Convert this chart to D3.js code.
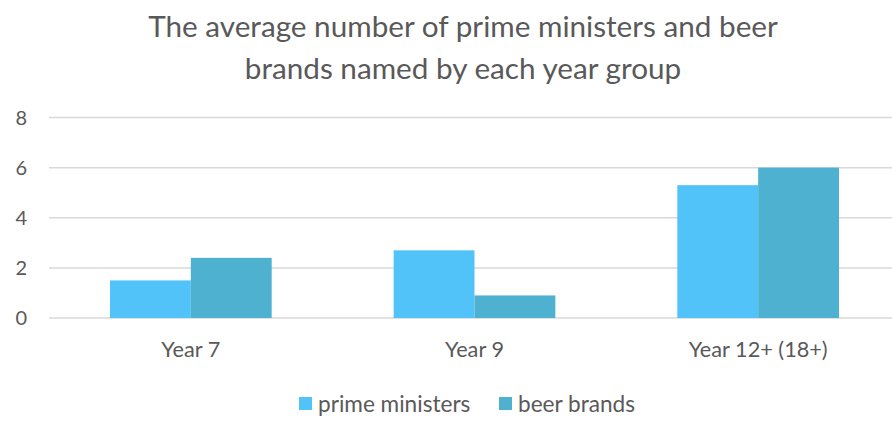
<!DOCTYPE html>
<html>
<head>
<meta charset="utf-8">
<script src="https://cdn.jsdelivr.net/npm/d3@7"></script>
<style>
  body { margin: 0; background: #fff; }
  svg { display: block; font-family: Lato, "Open Sans", sans-serif; }
</style>
</head>
<body>
<div id="chart"></div>
<script>
const categories = ["Year 7", "Year 9", "Year 12+ (18+)"];
const seriesNames = ["prime ministers", "beer brands"];
const primeMinisters = [1.5, 2.7, 5.3];
const beerBrands = [2.4, 0.9, 6.0];
const yTicks = [0, 2, 4, 6, 8];
const titleLines = [
  "The average number of prime ministers and beer",
  "brands named by each year group"
];

const width = 892;
const height = 431;

const svg = d3.select("#chart")
  .append("svg")
  .attr("width", width)
  .attr("height", height);

const colors = d3.scaleOrdinal()
  .domain(seriesNames)
  .range(["#52c3f8", "#4fb1d0"]);

const x = d3.scaleBand()
  .domain(categories)
  .range([49, 900])
  .paddingInner(0.43)
  .paddingOuter(0.215);

const xSub = d3.scaleBand()
  .domain(seriesNames)
  .range([0, x.bandwidth()]);

const y = d3.scaleLinear()
  .domain([0, 8])
  .range([318, 117.5]);

// gridlines
svg.append("g")
  .selectAll("line")
  .data(yTicks)
  .enter()
  .append("line")
  .attr("x1", 49)
  .attr("x2", width)
  .attr("y1", d => y(d))
  .attr("y2", d => y(d))
  .attr("stroke", "#d9d9d9")
  .attr("stroke-width", 1.5);

// y tick labels
svg.append("g")
  .selectAll("text")
  .data(yTicks)
  .enter()
  .append("text")
  .attr("x", 27)
  .attr("y", d => y(d))
  .attr("dy", "0.36em")
  .attr("text-anchor", "end")
  .attr("font-size", "20px")
  .attr("fill", "#595959")
  .text(d => d);

// bars
const rows = categories.map((c, i) => ({
  category: c,
  values: [
    { series: seriesNames[0], value: primeMinisters[i] },
    { series: seriesNames[1], value: beerBrands[i] }
  ]
}));

const groups = svg.append("g")
  .selectAll("g")
  .data(rows)
  .enter()
  .append("g")
  .attr("transform", d => `translate(${x(d.category)},0)`);

groups.selectAll("rect")
  .data(d => d.values)
  .enter()
  .append("rect")
  .attr("x", d => xSub(d.series))
  .attr("width", xSub.bandwidth())
  .attr("y", d => y(d.value))
  .attr("height", d => y(0) - y(d.value))
  .attr("fill", d => colors(d.series));

// category labels
svg.append("g")
  .selectAll("text")
  .data(categories)
  .enter()
  .append("text")
  .attr("x", d => x(d) + x.bandwidth() / 2)
  .attr("y", 357)
  .attr("text-anchor", "middle")
  .attr("font-size", "21.7px")
  .attr("fill", "#595959")
  .text(d => d);

// title
svg.append("g")
  .selectAll("text")
  .data(titleLines)
  .enter()
  .append("text")
  .attr("x", 463)
  .attr("y", (d, i) => 37 + i * 42)
  .attr("text-anchor", "middle")
  .attr("font-size", "29.7px")
  .attr("fill", "#595959")
  .text(d => d);

// legend
const legendItems = [
  { name: seriesNames[0], x: 299 },
  { name: seriesNames[1], x: 499 }
];

const legend = svg.append("g")
  .selectAll("g")
  .data(legendItems)
  .enter()
  .append("g")
  .attr("transform", d => `translate(${d.x},397)`);

legend.append("rect")
  .attr("width", 13)
  .attr("height", 13)
  .attr("fill", d => colors(d.name));

legend.append("text")
  .attr("x", 19)
  .attr("y", 7)
  .attr("dy", "0.36em")
  .attr("font-size", "22.6px")
  .attr("fill", "#595959")
  .text(d => d.name);
</script>
</body>
</html>
